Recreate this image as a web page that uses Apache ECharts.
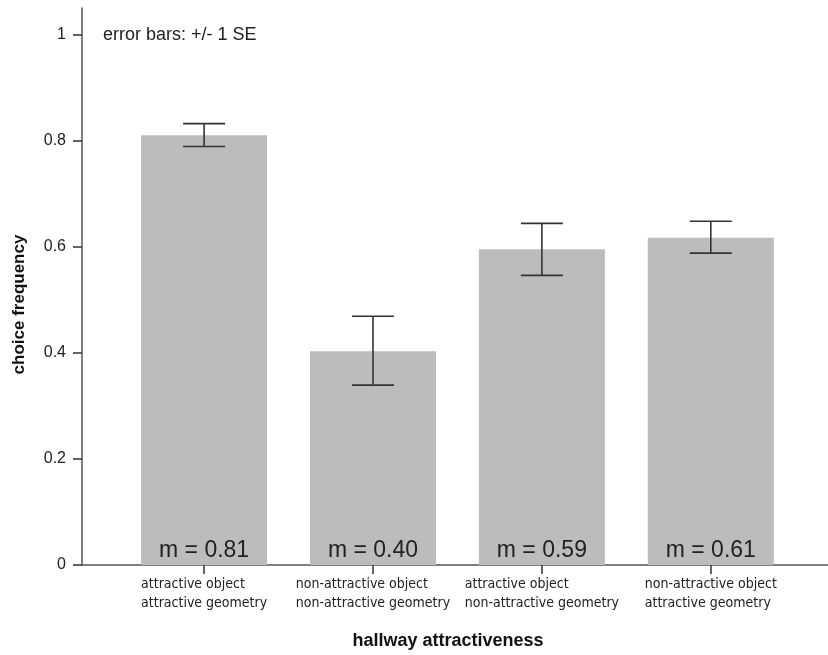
<!DOCTYPE html>
<html>
<head>
<meta charset="utf-8">
<script src="https://cdn.jsdelivr.net/npm/echarts@6/dist/echarts.min.js"></script>
<style>
html,body{margin:0;padding:0;background:#fff;}
#chart{width:828px;height:655px;}
</style>
</head>
<body>
<div id="chart"></div>
<script>
// ---- data ----
const categories = [
  'attractive object\nattractive geometry',
  'non-attractive object\nnon-attractive geometry',
  'attractive object\nnon-attractive geometry',
  'non-attractive object\nattractive geometry'
];
const means = [0.81, 0.403, 0.595, 0.617];
const errLow = [0.789, 0.339, 0.546, 0.588];
const errHigh = [0.832, 0.469, 0.644, 0.648];
const meanLabels = ['m = 0.81', 'm = 0.40', 'm = 0.59', 'm = 0.61'];
const yTicks = [0, 0.2, 0.4, 0.6, 0.8, 1];
const xTicks = [0, 1, 2, 3];
const yTitle = 'choice frequency';
const xTitle = 'hallway attractiveness';
const note = 'error bars: +/- 1 SE';

const chart = echarts.init(document.getElementById('chart'), null, {renderer: 'canvas'});
const axisColor = '#555';
const textColor = '#222';
const narrow = '"DejaVu Sans Condensed", "Liberation Sans", Arial, sans-serif';
const sans = '"Liberation Sans", Arial, Helvetica, sans-serif';

chart.setOption({
  animation: false,
  backgroundColor: '#fff',
  grid: {left: 82, right: 0, top: 8, bottom: 89, containLabel: false},
  xAxis: {
    type: 'value',
    min: -0.7229,
    max: 3.694,
    splitLine: {show: false},
    axisLine: {show: true, onZero: false, lineStyle: {color: axisColor, width: 1.5}},
    axisTick: {show: true, customValues: xTicks, length: 9, lineStyle: {color: '#333', width: 1.5}},
    axisLabel: {
      show: true,
      customValues: xTicks,
      margin: 10,
      align: 'center',
      verticalAlign: 'top',
      formatter: function (v) {
        const lines = categories[Math.round(v)].split('\n');
        return lines.map(function (s) { return '{l|' + s + '}'; }).join('\n');
      },
      rich: {
        l: {align: 'left', fontFamily: narrow, fontSize: 14, lineHeight: 19, color: textColor}
      }
    },
    name: xTitle,
    nameLocation: 'middle',
    nameGap: 67,
    nameTextStyle: {fontFamily: sans, fontWeight: 'bold', fontSize: 18, color: '#111', padding: [0, 14, 0, 0]}
  },
  yAxis: {
    type: 'value',
    min: 0,
    max: 1.05,
    splitLine: {show: false},
    axisLine: {show: true, onZero: false, lineStyle: {color: axisColor, width: 1.5}},
    axisTick: {show: true, customValues: yTicks, length: 9, lineStyle: {color: '#333', width: 1.5}},
    axisLabel: {
      customValues: yTicks,
      margin: 16,
      fontFamily: sans,
      fontSize: 16,
      color: textColor,
      formatter: function (v) { return String(parseFloat(v.toFixed(2))); }
    },
    name: yTitle,
    nameLocation: 'middle',
    nameGap: 54,
    nameRotate: 90,
    nameTextStyle: {fontFamily: sans, fontWeight: 'bold', fontSize: 17, color: '#111', padding: [0, 36, 0, 0]}
  },
  graphic: [{
    type: 'text',
    left: 103,
    top: 26,
    style: {text: note, fontFamily: sans, fontSize: 18, fill: textColor}
  }],
  series: [
    {
      type: 'bar',
      data: means.map(function (m, i) { return [i, m]; }),
      barWidth: 126,
      itemStyle: {color: '#bbbcbe'},
      label: {
        show: true,
        position: 'insideBottom',
        distance: 3,
        fontFamily: sans,
        fontSize: 23,
        color: textColor,
        formatter: function (p) { return meanLabels[p.dataIndex]; }
      },
      z: 2
    },
    {
      type: 'custom',
      data: errLow.map(function (lo, i) { return [i, lo, errHigh[i]]; }),
      z: 5,
      renderItem: function (params, api) {
        const x = api.value(0);
        const lo = api.coord([x, api.value(1)]);
        const hi = api.coord([x, api.value(2)]);
        const hw = 21;
        const style = {stroke: '#333', lineWidth: 1.6};
        return {
          type: 'group',
          children: [
            {type: 'line', shape: {x1: lo[0], y1: lo[1], x2: hi[0], y2: hi[1]}, style: style},
            {type: 'line', shape: {x1: lo[0] - hw, y1: lo[1], x2: lo[0] + hw, y2: lo[1]}, style: style},
            {type: 'line', shape: {x1: hi[0] - hw, y1: hi[1], x2: hi[0] + hw, y2: hi[1]}, style: style}
          ]
        };
      }
    }
  ]
});
</script>
</body>
</html>
